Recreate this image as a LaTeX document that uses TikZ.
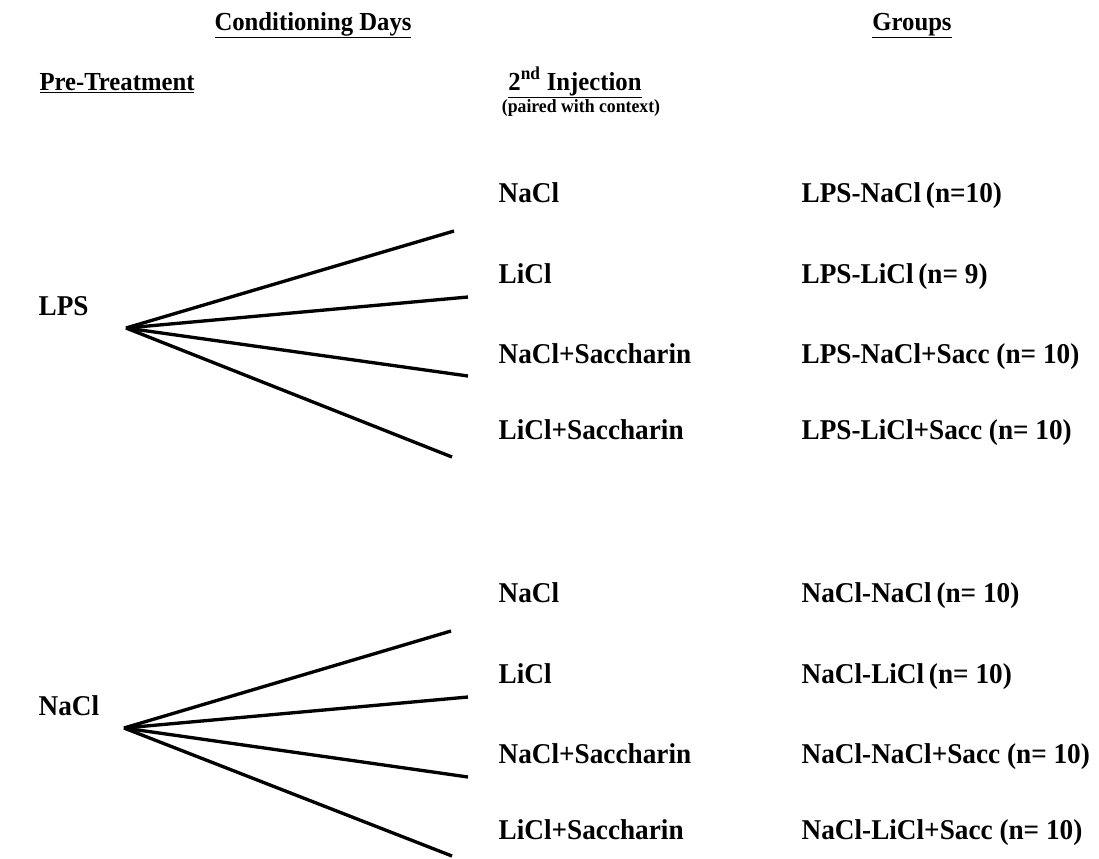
\documentclass[tikz,border=0pt]{standalone}
\usepackage{fontspec}
\setmainfont{Liberation Serif}[FakeStretch=0.95]
\begin{document}
\begin{tikzpicture}[x=0.75pt,y=-0.75pt,line width=2.5pt,
  lbl/.style={font=\fontsize{21.5pt}{21.5pt}\selectfont\bfseries,anchor=base west,inner sep=0pt},
  head/.style={font=\fontsize{19.5pt}{19.5pt}\selectfont\bfseries,anchor=base,inner sep=0pt},
  note/.style={font=\fontsize{14pt}{14pt}\selectfont\bfseries,anchor=base,inner sep=0pt}]
  \useasboundingbox (0,0) rectangle (1099,858);
  % column headings
  \node[head] (cond) at (313,30) {\underline{Conditioning Days}};
  \node[head] (grp) at (912,30) {\underline{Groups}};
  \node[head] (pre) at (117,90) {\underline{Pre-Treatment}};
  \node[head] (inj) at (575,90) {\underline{2\textsuperscript{nd} Injection}};
  \node[note] (ctx) at (581,112) {(paired with context)};

  % LPS block
  \node[lbl] (lps) at (37,315) {LPS};
  \coordinate (v1) at (126,328);
  \coordinate (v11) at (454,231);
  \coordinate (v12) at (468,297);
  \coordinate (v13) at (468,376);
  \coordinate (v14) at (452,457);
  \node[lbl] (lpsA) at (497,202) {NaCl};
  \node[lbl] (lpsB) at (497,283) {LiCl};
  \node[lbl] (lpsC) at (497,363) {NaCl+Saccharin};
  \node[lbl] (lpsD) at (497,439) {LiCl+Saccharin};
  \node[lbl] (grpA) at (800,202) {LPS-NaCl\,(n=10)};
  \node[lbl] (grpB) at (800,283) {LPS-LiCl\,(n= 9)};
  \node[lbl] (grpC) at (800,363) {LPS-NaCl+Sacc (n= 10)};
  \node[lbl] (grpD) at (800,439) {LPS-LiCl+Sacc (n= 10)};
  \foreach \e in {v11,v12,v13,v14}
    \draw (v1) -- (\e);

  % NaCl block
  \node[lbl] (nacl) at (37,715) {NaCl};
  \coordinate (v2) at (124,728);
  \coordinate (v21) at (451,631);
  \coordinate (v22) at (468,697);
  \coordinate (v23) at (468,777);
  \coordinate (v24) at (452,856);
  \node[lbl] (naclA) at (497,602) {NaCl};
  \node[lbl] (naclB) at (497,683) {LiCl};
  \node[lbl] (naclC) at (497,763) {NaCl+Saccharin};
  \node[lbl] (naclD) at (497,839) {LiCl+Saccharin};
  \node[lbl] (grpE) at (800,602) {NaCl-NaCl\,(n= 10)};
  \node[lbl] (grpF) at (800,683) {NaCl-LiCl\,(n= 10)};
  \node[lbl] (grpG) at (800,763) {NaCl-NaCl+Sacc (n= 10)};
  \node[lbl] (grpH) at (800,839) {NaCl-LiCl+Sacc (n= 10)};
  \foreach \e in {v21,v22,v23,v24}
    \draw (v2) -- (\e);
\end{tikzpicture}
\end{document}
